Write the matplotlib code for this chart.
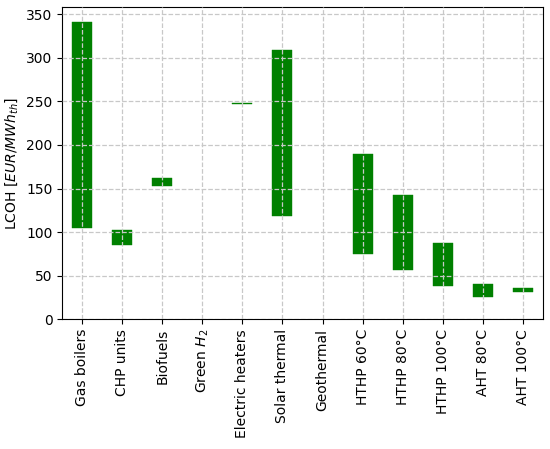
import matplotlib
matplotlib.use("Agg")
import matplotlib.pyplot as plt
import numpy as np

# technologies and LCOH range (min / max) in EUR/MWh_th
technologies = [
    "Gas boilers", "CHP units", "Biofuels", "Green $H_2$", "Electric heaters",
    "Solar thermal", "Geothermal", "HTHP 60°C", "HTHP 80°C", "HTHP 100°C",
    "AHT 80°C", "AHT 100°C",
]
lcoh_min = [105, 85, 153, np.nan, 246.5, 119, np.nan, 75, 56, 38, 25, 31]
lcoh_max = [341, 102, 162, np.nan, 248.5, 309, np.nan, 190, 142, 88, 41, 36]

lo = np.array(lcoh_min, dtype=float)
hi = np.array(lcoh_max, dtype=float)
x = np.arange(len(technologies))
ok = ~np.isnan(lo)  # no data for some technologies

f, ax = plt.subplots(figsize=(5.5, 4.49), dpi=100)

ax.bar(x[ok], hi[ok] - lo[ok], bottom=lo[ok], width=0.5,
       color="green", edgecolor="green", lw=0.3, zorder=1)

ax.grid(True, linestyle="--", color="#c8c8c8", lw=0.9, zorder=2)
ax.set_axisbelow(False)

ax.set_xticks(x)
ax.set_xticklabels(technologies, rotation=90, fontsize=10)
ax.tick_params(axis="y", labelsize=10)
ax.set_xlim(-0.5, len(technologies) - 0.5)
ax.set_ylim(0, np.nanmax(hi) * 1.05)
ax.set_yticks(np.arange(0, 351, 50))
ax.set_ylabel("LCOH [$EUR/MWh_{th}$]", fontsize=10)

f.subplots_adjust(left=0.113, right=0.987, top=0.984, bottom=0.289)
f.savefig("out.png", dpi=100)
